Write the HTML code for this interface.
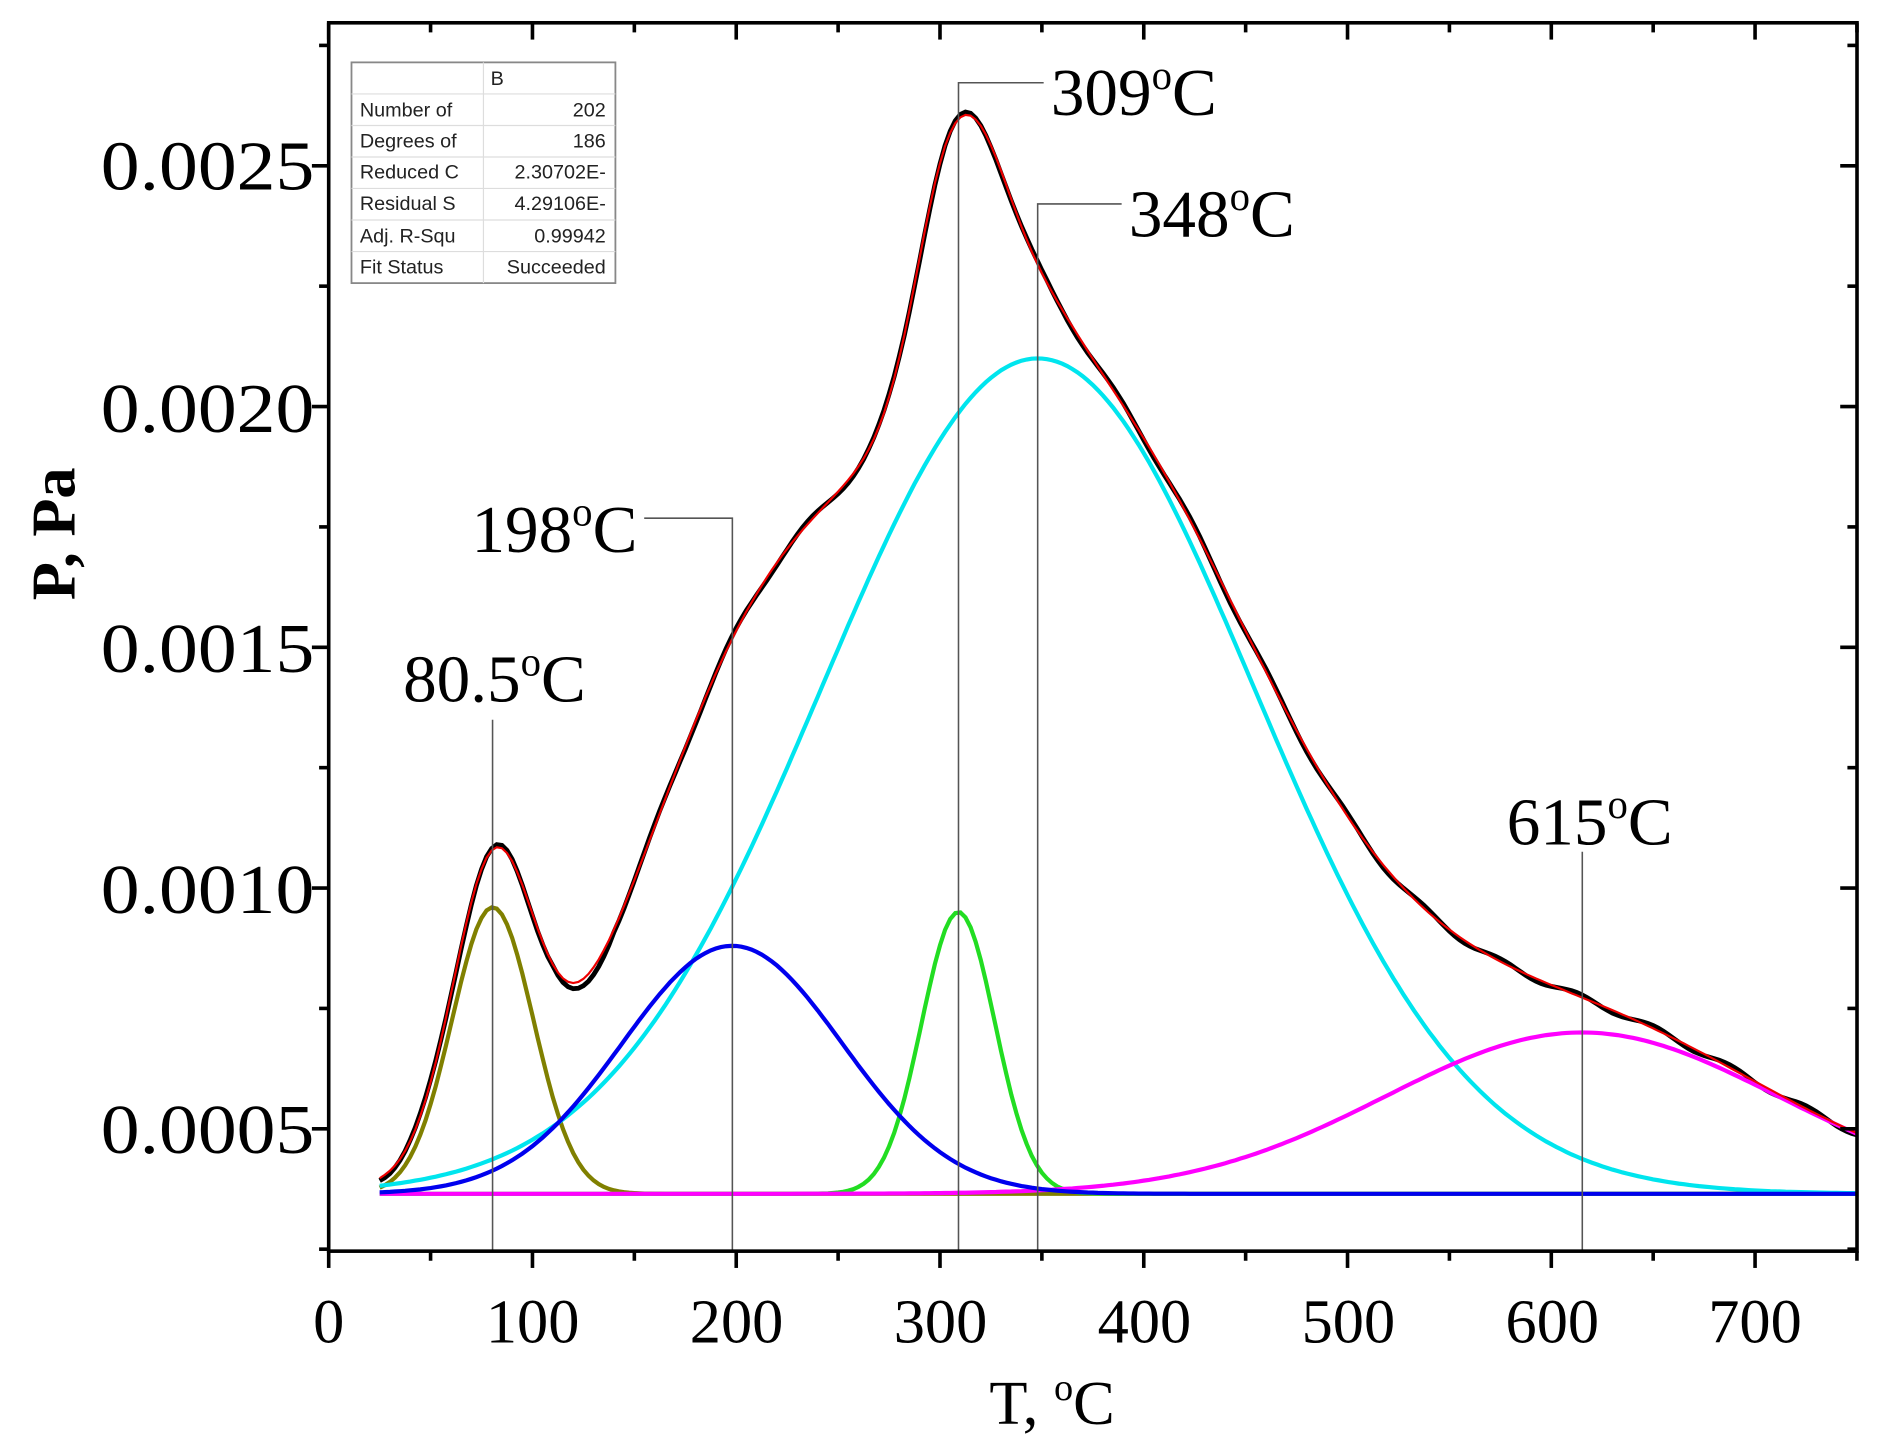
<!DOCTYPE html>
<html><head><meta charset="utf-8"><style>
html,body{margin:0;padding:0;background:#fff;}
svg{display:block;}
text{font-family:"Liberation Serif",serif;fill:#000;}
.t{font-family:"Liberation Sans",sans-serif;font-size:16.5px;fill:#222;}
</style></head><body>
<svg id="s" width="1881" height="1445" viewBox="0 0 1568 1204.6" preserveAspectRatio="none" xmlns="http://www.w3.org/2000/svg">
<g id="curves"></g>
<g stroke="#555" stroke-width="1.3" fill="none">
<path d="M410.6 1043V600"/>
<path d="M610.5 1043V432H537"/>
<path d="M799 1043V69H870"/>
<path d="M865 1043V170H935"/>
<path d="M1319 1043V710"/>
</g>
<rect x="274" y="19" width="1274" height="1024" fill="none" stroke="#000" stroke-width="3"/>
<g id="ticks" stroke="#000" stroke-width="3"></g>
<g font-size="58" text-anchor="end">
<text x="262" y="961" textLength="178" lengthAdjust="spacingAndGlyphs">0.0005</text>
<text x="262" y="761" textLength="178" lengthAdjust="spacingAndGlyphs">0.0010</text>
<text x="262" y="560" textLength="178" lengthAdjust="spacingAndGlyphs">0.0015</text>
<text x="262" y="360" textLength="178" lengthAdjust="spacingAndGlyphs">0.0020</text>
<text x="262" y="158" textLength="178" lengthAdjust="spacingAndGlyphs">0.0025</text>
</g>
<g font-size="52" text-anchor="middle">
<text x="274" y="1119">0</text><text x="444" y="1119">100</text><text x="614" y="1119">200</text><text x="784" y="1119">300</text><text x="954" y="1119">400</text><text x="1124" y="1119">500</text><text x="1294" y="1119">600</text><text x="1463" y="1119">700</text>
<text x="877" y="1187">T, <tspan font-size="32" dy="-20">o</tspan><tspan dy="20">C</tspan></text>
<text transform="translate(62,445) rotate(-90)" font-weight="bold">P, Pa</text>
</g>
<g font-size="56">
<text x="336" y="585">80.5<tspan font-size="34" dy="-22">o</tspan><tspan dy="22">C</tspan></text>
<text x="393" y="460">198<tspan font-size="34" dy="-22">o</tspan><tspan dy="22">C</tspan></text>
<text x="876" y="96">309<tspan font-size="34" dy="-22">o</tspan><tspan dy="22">C</tspan></text>
<text x="941" y="197">348<tspan font-size="34" dy="-22">o</tspan><tspan dy="22">C</tspan></text>
<text x="1256" y="704">615<tspan font-size="34" dy="-22">o</tspan><tspan dy="22">C</tspan></text>
</g>
<g>
<rect x="293" y="52" width="220" height="184" fill="#fff" stroke="#888" stroke-width="1.5"/>
<g stroke="#ddd" stroke-width="1">
<path d="M403 52V236"/>
<path d="M293 78.3H513M293 104.6H513M293 130.9H513M293 157.1H513M293 183.4H513M293 209.7H513"/>
</g>
<text class="t" x="409" y="71">B</text>
<text class="t" x="300" y="97">Number of</text><text class="t" x="505" y="97" text-anchor="end">202</text>
<text class="t" x="300" y="123">Degrees of</text><text class="t" x="505" y="123" text-anchor="end">186</text>
<text class="t" x="300" y="149">Reduced C</text><text class="t" x="505" y="149" text-anchor="end">2.30702E-</text>
<text class="t" x="300" y="175">Residual S</text><text class="t" x="505" y="175" text-anchor="end">4.29106E-</text>
<text class="t" x="300" y="202">Adj. R-Squ</text><text class="t" x="505" y="202" text-anchor="end">0.99942</text>
<text class="t" x="300" y="228">Fit Status</text><text class="t" x="505" y="228" text-anchor="end">Succeeded</text>
</g>
</svg>
<script>
(function(){
var NS="http://www.w3.org/2000/svg";
function X(t){return 274+t*1.6986;}
function Y(v){return 941-(v-0.0005)/0.0005*200.7;}
var B=0.000365;
function g(t,c,a,s){return a*Math.exp(-(t-c)*(t-c)/(2*s*s));}
var comps={ol:[80.5,0.000595,20,"#808000"],bl:[198,0.000515,54,"#0000ee"],gr:[309,0.000585,18,"#22dd22"],cy:[348,0.001735,106,"#00e5ee"],mg:[615,0.000335,96,"#ff00ff"]};
var G=document.getElementById("curves");
function path(fn,col,w){var d="";for(var t=25;t<=750.01;t+=2.5){d+=(d?"L":"M")+X(t).toFixed(1)+" "+Y(fn(t)).toFixed(1);}
var p=document.createElementNS(NS,"path");p.setAttribute("d",d);p.setAttribute("fill","none");p.setAttribute("stroke",col);p.setAttribute("stroke-width",w);G.appendChild(p);}
function tot(t){var s=B;for(var k in comps){var c=comps[k];s+=g(t,c[0],c[1],c[2]);}
 s+=g(t,340,0.00013,22)-g(t,312,0.00009,12);return s;}
path(function(t){return tot(t)+0.000006*Math.sin(t/6)+(t>110&&t<140?-0.00002*Math.sin((t-110)/30*Math.PI):0);},"#000",4);
["ol","gr","cy","mg","bl"].forEach(function(k){var c=comps[k];path(function(t){return B+g(t,c[0],c[1],c[2]);},c[3],3.5);});
path(tot,"#e00",1.8);
var T=document.getElementById("ticks");
function ln(x1,y1,x2,y2){var l=document.createElementNS(NS,"line");l.setAttribute("x1",x1);l.setAttribute("y1",y1);l.setAttribute("x2",x2);l.setAttribute("y2",y2);T.appendChild(l);}
for(var t=0;t<=750;t+=50){var x=X(t),M=(t%100==0);ln(x,1043,x,1043+(M?14:8));ln(x,19,x,19+(M?14:8));}
for(var v=0.00025;v<=0.00276;v+=0.00025){var y=Y(v),M=(Math.round(v/0.00025)%2==0);ln(274,y,274-(M?14:8),y);ln(1548,y,1548-(M?14:8),y);}
})();
</script>
</body></html>
